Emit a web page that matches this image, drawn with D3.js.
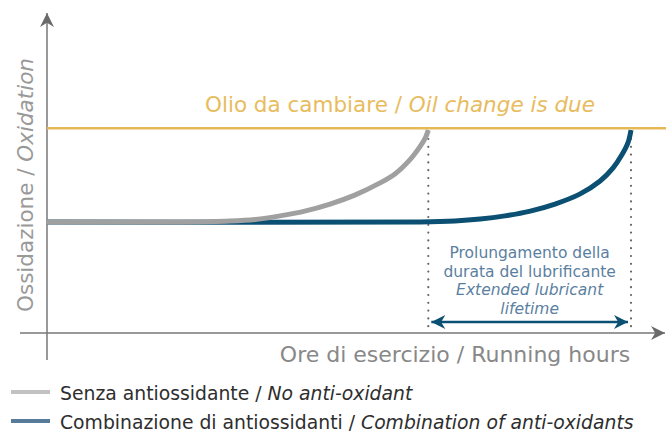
<!DOCTYPE html>
<html>
<head>
<meta charset="utf-8">
<title>Ossidazione / Oxidation</title>
<script src="https://d3js.org/d3.v7.min.js"></script>
<style>
  body { margin: 0; background: #fff; }
  svg { display: block; }
</style>
</head>
<body>
<svg width="666" height="432"></svg>
<script>
    // running hours (0-100) vs oxidation (0-100)
    const grayHours = [0, 21.5, 29.6, 33.7, 37.7, 41.7, 45.8, 49.8, 53.9, 56.3, 58.7, 60.3, 61.2, 61.7];
    const grayOx    = [34.7, 34.7, 35.0, 35.5, 36.6, 38.1, 40.3, 43.1, 46.9, 49.7, 54.1, 58.1, 60.9, 63.4];
    const blueHours = [0, 60.4, 66.0, 70.1, 74.1, 78.2, 82.2, 86.2, 89.5, 91.6, 93.0, 94.0, 94.5];
    const blueOx    = [34.7, 34.7, 35.0, 35.6, 36.6, 38.1, 40.3, 43.4, 47.5, 51.6, 55.6, 59.4, 63.4];
    const oilLimit = 64;
    const lifetimeFrom = 61.7, lifetimeTo = 94.5;

    const legendLabels = [
        ["Senza antiossidante / ", "No anti-oxidant"],
        ["Combinazione di antiossidanti / ", "Combination of anti-oxidants"]
    ];
    const legendColors = ["#c2c2c2", "#587b99"];
    const noteLines = ["Prolungamento della", "durata del lubrificante", "Extended lubricant", "lifetime"];

    const font = "DejaVu Sans";
    const svg = d3.select("svg");
    const x = d3.scaleLinear().domain([0, 100]).range([47, 665]);
    const y = d3.scaleLinear().domain([0, 100]).range([333, 13]);

    const axisCol = "#777";
    const defs = svg.append("defs");
    const mk = (id, col, w, h) => defs.append("marker")
        .attr("id", id).attr("viewBox", "0 0 10 10")
        .attr("refX", 10).attr("refY", 5)
        .attr("markerWidth", w).attr("markerHeight", h)
        .attr("markerUnits", "userSpaceOnUse")
        .attr("orient", "auto-start-reverse")
        .append("path").attr("d", "M0,0 L10,5 L0,10 L3,5 Z").attr("fill", col);
    mk("axArrow", "#6a6a6a", 14, 14);
    mk("blArrow", "#0b5073", 16, 14);

    // axes
    svg.append("line")
        .attr("x1", x(0)).attr("x2", x(0))
        .attr("y1", 360).attr("y2", y(100))
        .attr("stroke", axisCol).attr("stroke-width", 1.5)
        .attr("marker-end", "url(#axArrow)");
    svg.append("line")
        .attr("x1", 20).attr("x2", x(100))
        .attr("y1", y(0)).attr("y2", y(0))
        .attr("stroke", axisCol).attr("stroke-width", 1.5)
        .attr("marker-end", "url(#axArrow)");

    // oil change limit
    svg.append("line")
        .attr("x1", x(0)).attr("x2", 666)
        .attr("y1", y(oilLimit)).attr("y2", y(oilLimit))
        .attr("stroke", "#e7b955").attr("stroke-width", 2.5);

    const lbl = svg.append("text")
        .attr("x", 400).attr("y", 112)
        .attr("text-anchor", "middle")
        .attr("font-family", font).attr("font-size", 21.5)
        .attr("fill", "#e8bc5e");
    lbl.append("tspan").text("Olio da cambiare / ");
    lbl.append("tspan").attr("font-style", "italic").text("Oil change is due");

    // dotted guides
    [lifetimeFrom, lifetimeTo].forEach(h => {
        svg.append("line")
            .attr("x1", x(h)).attr("x2", x(h))
            .attr("y1", y(oilLimit) + 3).attr("y2", y(0) - 2)
            .attr("stroke", "#666").attr("stroke-width", 2.2)
            .attr("stroke-linecap", "round")
            .attr("stroke-dasharray", "0,7.8");
    });

    // curves
    const line = d3.line()
        .x(d => x(d[0])).y(d => y(d[1]))
        .curve(d3.curveCatmullRom.alpha(0.5));
    svg.append("path")
        .datum(d3.zip(blueHours, blueOx))
        .attr("d", line).attr("fill", "none")
        .attr("stroke", "#0b5073").attr("stroke-width", 5);
    svg.append("path")
        .datum(d3.zip(grayHours, grayOx))
        .attr("d", line).attr("fill", "none")
        .attr("stroke", "#a0a0a0").attr("stroke-width", 5);

    // lifetime arrow
    svg.append("line")
        .attr("x1", x(lifetimeFrom) + 3).attr("x2", x(lifetimeTo) - 3)
        .attr("y1", 322).attr("y2", 322)
        .attr("stroke", "#0b5073").attr("stroke-width", 2.5)
        .attr("marker-start", "url(#blArrow)")
        .attr("marker-end", "url(#blArrow)");

    const note = svg.append("text")
        .attr("text-anchor", "middle")
        .attr("font-family", font).attr("font-size", 15.5)
        .attr("fill", "#5b7fa0");
    noteLines.forEach((t, i) => {
        note.append("tspan")
            .attr("x", (x(lifetimeFrom) + x(lifetimeTo)) / 2)
            .attr("y", 258 + i * 18.7)
            .attr("font-style", i > 1 ? "italic" : null)
            .text(t);
    });

    // axis titles
    const yt = svg.append("text")
        .attr("transform", "translate(33,185) rotate(-90)")
        .attr("text-anchor", "middle")
        .attr("font-family", font).attr("font-size", 21.5)
        .attr("fill", "#999");
    yt.append("tspan").text("Ossidazione / ");
    yt.append("tspan").attr("font-style", "italic").text("Oxidation");

    svg.append("text")
        .attr("x", 455).attr("y", 362)
        .attr("text-anchor", "middle")
        .attr("font-family", font).attr("font-size", 22)
        .attr("fill", "#888")
        .text("Ore di esercizio / Running hours");

    // legend
    const leg = svg.selectAll(".leg").data(legendLabels).enter().append("g")
        .attr("class", "leg")
        .attr("transform", (d, i) => "translate(11," + (392 + i * 29) + ")");
    leg.append("rect")
        .attr("x", 0).attr("y", -2).attr("width", 39).attr("height", 4)
        .attr("fill", (d, i) => legendColors[i]);
    const lt = leg.append("text")
        .attr("x", 49).attr("y", 8)
        .attr("font-family", font).attr("font-size", 18.8)
        .attr("fill", "#2e2e2e");
    lt.append("tspan").text(d => d[0]);
    lt.append("tspan").attr("font-style", "italic").text(d => d[1]);
</script>
</body>
</html>
